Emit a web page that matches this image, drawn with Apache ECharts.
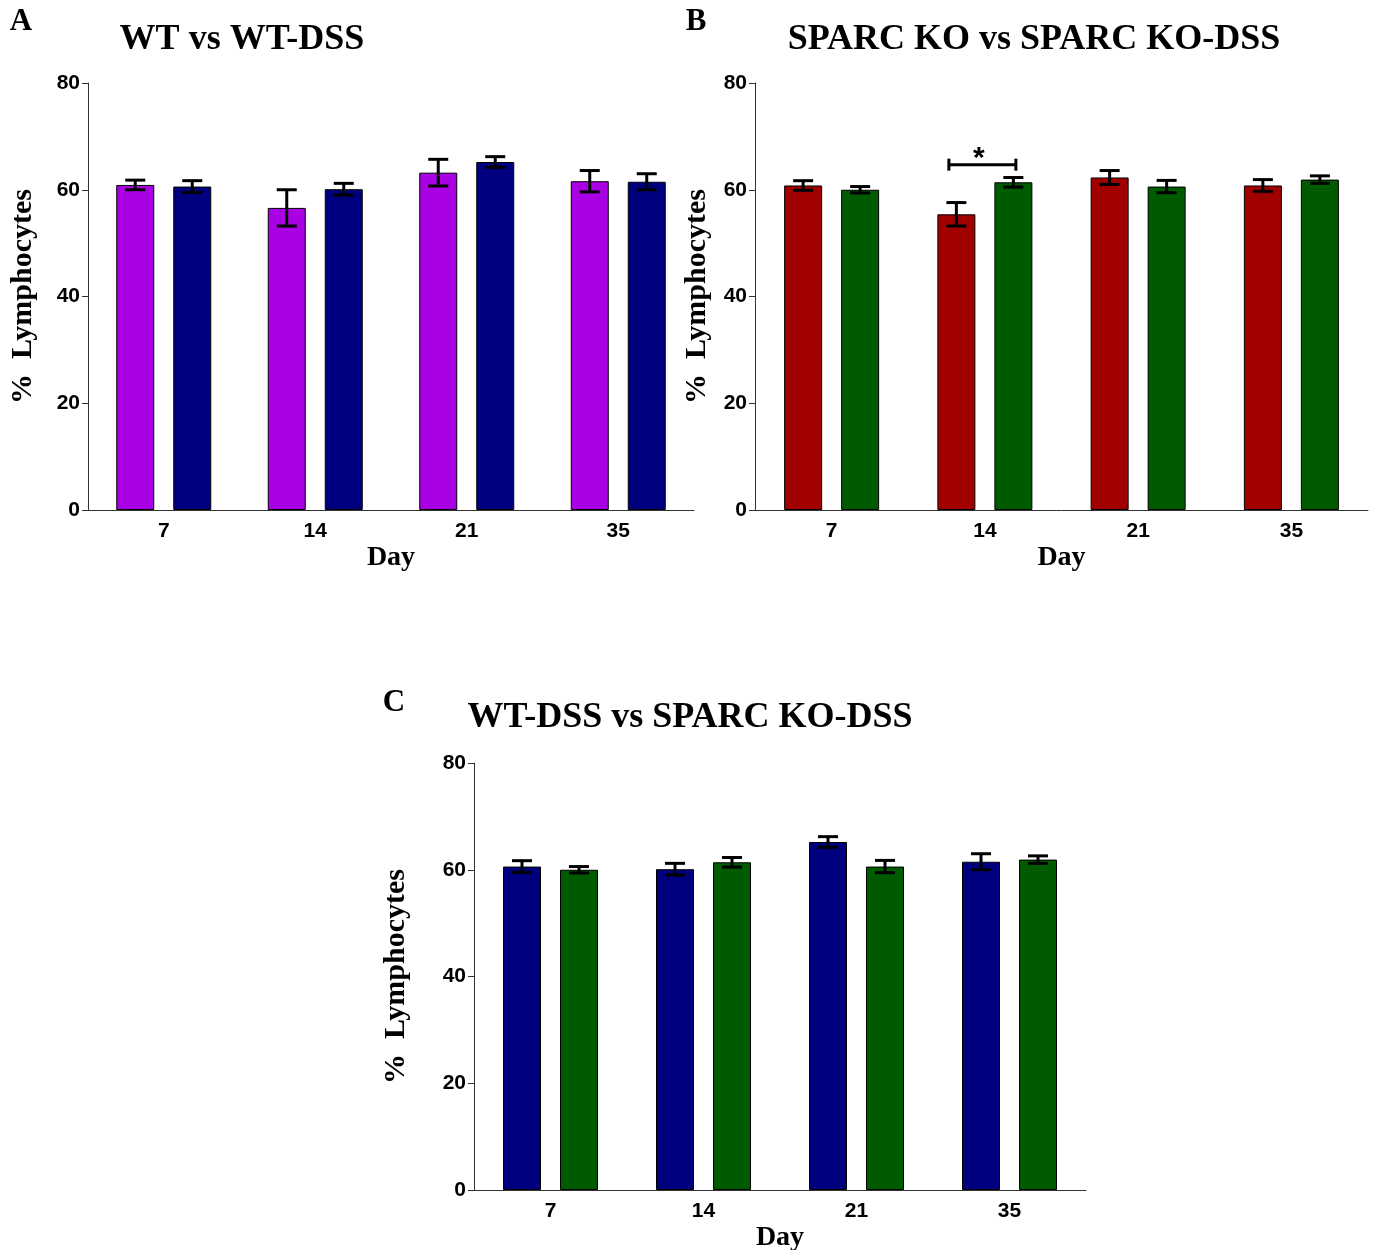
<!DOCTYPE html>
<html>
<head>
<meta charset="utf-8">
<title>% Lymphocytes</title>
<script src="https://cdn.jsdelivr.net/npm/echarts@6/dist/echarts.min.js"></script>
<style>
    html, body { margin: 0; padding: 0; background: #fff; }
    #main { width: 1376px; height: 1250px; }
</style>
</head>
<body>
<div id="main"></div>
<script>
// data
var days = ['7', '14', '21', '35'];
var yTicks = [0, 20, 40, 60, 80];

var wtMean = [60.9, 56.6, 63.2, 61.6];
var wtErr = [0.9, 3.4, 2.5, 2.0];
var wtDssMean = [60.6, 60.1, 65.2, 61.5];
var wtDssErr = [1.1, 1.1, 1.0, 1.5];
var koMean = [60.8, 55.4, 62.3, 60.8];
var koErr = [0.9, 2.2, 1.3, 1.1];
var koDssMean = [60.0, 61.4, 60.6, 61.9];
var koDssErr = [0.6, 0.9, 1.15, 0.7];

// significance bracket in panel B (day 14)
var sigDay = [1];
var sigLevel = [64.7];
var sigText = ['*'];

var panelTitles = ['WT vs WT-DSS', 'SPARC KO vs SPARC KO-DSS', 'WT-DSS vs SPARC KO-DSS'];
var panelLetters = ['A', 'B', 'C'];

var SERIF = '"Liberation Serif", "Times New Roman", serif';
var SANS = '"Liberation Sans", Arial, sans-serif';

var colPurple = '#aa00e4';
var colNavy = '#00007f';
var colRed = '#a00000';
var colGreen = '#005a00';

var myChart = echarts.init(document.getElementById('main'));

var grids = [
    {left: 88, top: 83, width: 606, height: 427, outerBoundsMode: 'none'},
    {left: 755, top: 83, width: 613, height: 427, outerBoundsMode: 'none'},
    {left: 474, top: 763, width: 612, height: 427, outerBoundsMode: 'none'}
];
// y title distance differs a little per panel
var yNameGaps = [50, 43, 63];

function makeX(i) {
    return {
        type: 'category',
        gridIndex: i,
        data: days,
        name: 'Day',
        nameLocation: 'middle',
        nameGap: 34,
        nameTextStyle: {fontFamily: SERIF, fontWeight: 'bold', fontSize: 28, color: '#000'},
        axisLine: {lineStyle: {color: '#333', width: 1}},
        axisTick: {alignWithLabel: true, length: 6, lineStyle: {color: '#333'}},
        axisLabel: {fontFamily: SANS, fontWeight: 'bold', fontSize: 21, color: '#000', margin: 11}
    };
}

function makeY(i) {
    return {
        type: 'value',
        gridIndex: i,
        min: yTicks[0],
        max: yTicks[yTicks.length - 1],
        interval: yTicks[1] - yTicks[0],
        name: '%  Lymphocytes',
        nameLocation: 'middle',
        nameGap: yNameGaps[i],
        nameRotate: 90,
        nameTextStyle: {fontFamily: SERIF, fontWeight: 'bold', fontSize: 30, color: '#000'},
        splitLine: {show: false},
        axisLine: {show: true, lineStyle: {color: '#333', width: 1}},
        axisTick: {show: true, length: 6, lineStyle: {color: '#333'}},
        axisLabel: {fontFamily: SANS, fontWeight: 'bold', fontSize: 21, color: '#000', margin: 8}
    };
}

function barSeries(i, values, color) {
    return {
        type: 'bar',
        xAxisIndex: i,
        yAxisIndex: i,
        data: values,
        barWidth: 38,
        barGap: '50%',
        itemStyle: {color: color, borderColor: '#000', borderWidth: 1}
    };
}

// error bars drawn with a custom series, shifted to the bar's centre
function errSeries(i, means, errs, offset) {
    var d = [];
    for (var k = 0; k < means.length; k++) {
        d.push([k, means[k] - errs[k], means[k] + errs[k]]);
    }
    return {
        type: 'custom',
        xAxisIndex: i,
        yAxisIndex: i,
        z: 5,
        encode: {x: 0, y: [1, 2]},
        data: d,
        renderItem: function (params, api) {
            var lo = api.coord([api.value(0), api.value(1)]);
            var hi = api.coord([api.value(0), api.value(2)]);
            var cx = lo[0] + offset;
            var hw = 10;
            var st = {stroke: '#000', lineWidth: 3};
            return {
                type: 'group',
                children: [
                    {type: 'line', shape: {x1: cx, y1: hi[1], x2: cx, y2: lo[1]}, style: st},
                    {type: 'line', shape: {x1: cx - hw, y1: hi[1], x2: cx + hw, y2: hi[1]}, style: st},
                    {type: 'line', shape: {x1: cx - hw, y1: lo[1], x2: cx + hw, y2: lo[1]}, style: st}
                ]
            };
        }
    };
}

function sigSeries(i) {
    var d = [];
    for (var k = 0; k < sigDay.length; k++) {
        d.push([sigDay[k], sigLevel[k]]);
    }
    return {
        type: 'custom',
        xAxisIndex: i,
        yAxisIndex: i,
        z: 6,
        data: d,
        renderItem: function (params, api) {
            var p = api.coord([api.value(0), api.value(1)]);
            var x1 = p[0] - 36, x2 = p[0] + 31, y = p[1];
            var st = {stroke: '#000', lineWidth: 3};
            return {
                type: 'group',
                children: [
                    {type: 'line', shape: {x1: x1, y1: y, x2: x2, y2: y}, style: st},
                    {type: 'line', shape: {x1: x1, y1: y - 6, x2: x1, y2: y + 6}, style: st},
                    {type: 'line', shape: {x1: x2, y1: y - 6, x2: x2, y2: y + 6}, style: st},
                    {type: 'text', x: p[0] - 6, y: y + 9, style: {
                        text: sigText[params.dataIndex], fontFamily: SANS, fontWeight: 'bold',
                        fontSize: 30, fill: '#000', align: 'center', verticalAlign: 'bottom'
                    }}
                ]
            };
        }
    };
}

function label(txt, x, y, size) {
    return {
        type: 'text', x: x, y: y,
        style: {text: txt, fontFamily: SERIF, fontWeight: 'bold', fontSize: size,
            fill: '#000', align: 'center', verticalAlign: 'middle'}
    };
}

var option = {
    backgroundColor: '#fff',
    animation: false,
    grid: grids,
    xAxis: [makeX(0), makeX(1), makeX(2)],
    yAxis: [makeY(0), makeY(1), makeY(2)],
    graphic: [
        label(panelLetters[0], 21, 22, 31),
        label(panelLetters[1], 696, 22, 31),
        label(panelLetters[2], 394, 703, 31),
        label(panelTitles[0], 242, 40, 36),
        label(panelTitles[1], 1034, 40, 36),
        label(panelTitles[2], 690, 718, 36)
    ],
    series: [
        barSeries(0, wtMean, colPurple),
        barSeries(0, wtDssMean, colNavy),
        errSeries(0, wtMean, wtErr, -28.5),
        errSeries(0, wtDssMean, wtDssErr, 28.5),

        barSeries(1, koMean, colRed),
        barSeries(1, koDssMean, colGreen),
        errSeries(1, koMean, koErr, -28.5),
        errSeries(1, koDssMean, koDssErr, 28.5),
        sigSeries(1),

        barSeries(2, wtDssMean, colNavy),
        barSeries(2, koDssMean, colGreen),
        errSeries(2, wtDssMean, wtDssErr, -28.5),
        errSeries(2, koDssMean, koDssErr, 28.5)
    ]
};

myChart.setOption(option);

window.onresize = function () {
    myChart.resize();
};
</script>
</body>
</html>
